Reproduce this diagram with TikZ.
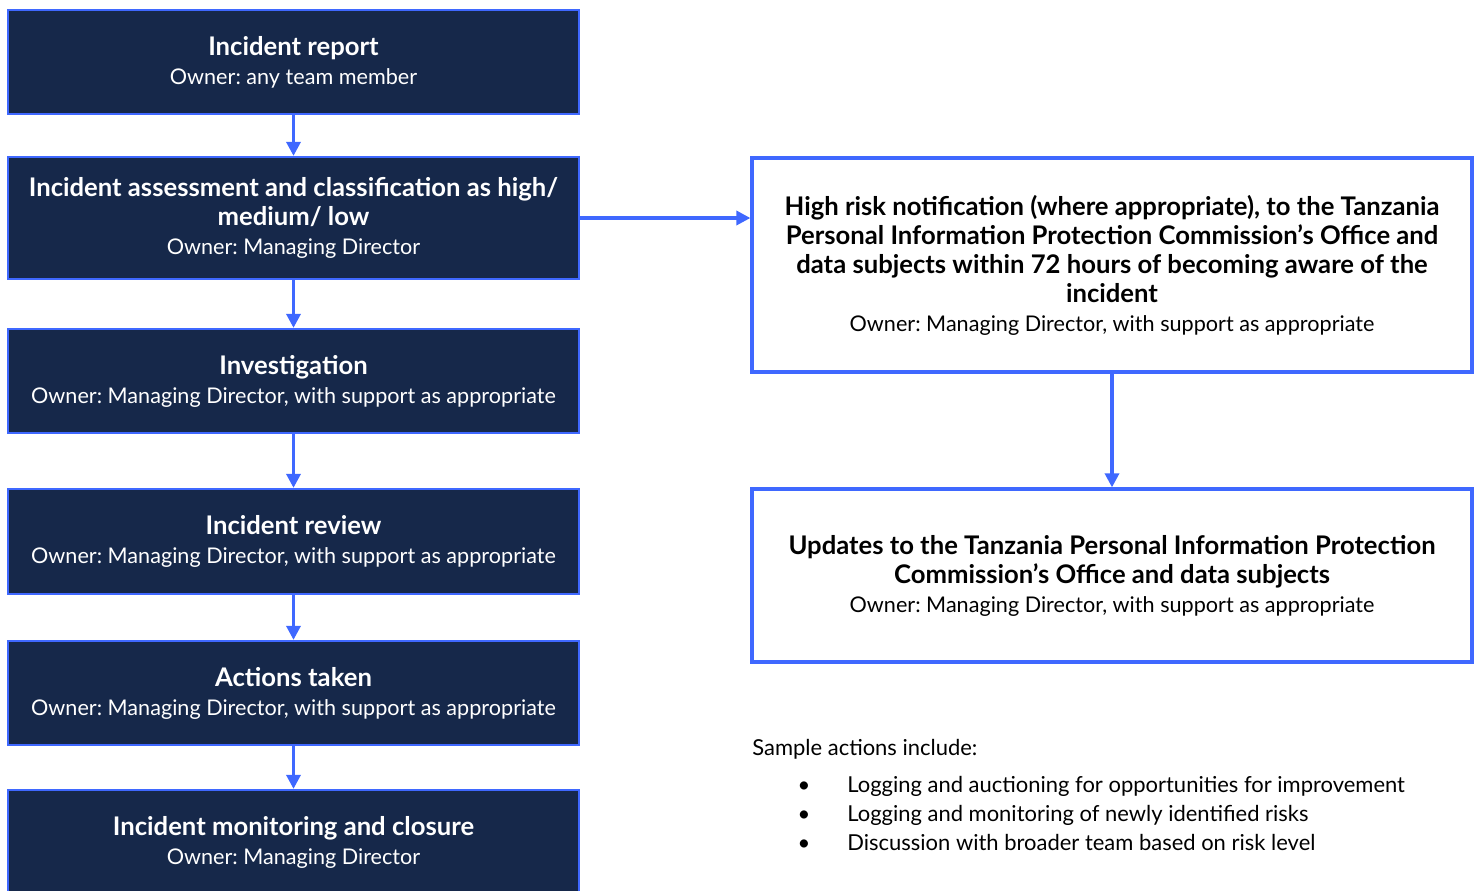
\documentclass[tikz,border=0pt]{standalone}
\usepackage{fontspec}
\setmainfont{Lato}
\usetikzlibrary{arrows.meta, positioning}
\definecolor{navy}{HTML}{16284A}
\definecolor{lineblue}{HTML}{3F68FF}
\newcommand\hd[1]{{\fontsize{14.6}{16.5}\selectfont\bfseries #1}}

\tikzset{
  stagebox/.style={draw=lineblue, line width=1.3pt, fill=navy, text=white,
    align=center, minimum width=11.42cm, inner sep=0pt,
    font=\fontsize{12.3}{16.5}\selectfont\frenchspacing},
  notebox/.style={draw=lineblue, line width=1.9pt, fill=white, text=black,
    align=center, minimum width=14.4cm, inner sep=0pt,
    font=\fontsize{12.3}{16.5}\selectfont\frenchspacing},
  flow/.style={draw=lineblue, line width=1.9pt, -{Triangle[length=8pt,width=8pt]}},
  plain/.style={font=\fontsize{12.5}{16.5}\selectfont\frenchspacing, inner sep=0pt}
}

\begin{document}
\begin{tikzpicture}[x=0.02cm, y=-0.02cm]
\useasboundingbox (0,0) rectangle (1478,890);
\begin{scope}
\clip (0,0) rectangle (1478,890);
% left column
\node[stagebox, minimum height=2.08cm] (report) at (293.5,62)
  {\hd{Incident report}\\Owner: any team member};
\node[stagebox, minimum height=2.44cm] (assess) at (293.5,218)
  {\hd{Incident assessment and classification as high/}\\\hd{medium/ low}\\Owner: Managing Director};
\node[stagebox, minimum height=2.08cm] (investig) at (293.5,381)
  {\hd{Investigation}\\Owner: Managing Director, with support as appropriate};
\node[stagebox, minimum height=2.1cm] (review) at (293.5,541.5)
  {\hd{Incident review}\\Owner: Managing Director, with support as appropriate};
\node[stagebox, minimum height=2.08cm] (actions) at (293.5,693)
  {\hd{Actions taken}\\Owner: Managing Director, with support as appropriate};
\node[stagebox, minimum height=2.1cm] (closure) at (293.5,842.5)
  {\hd{Incident monitoring and closure}\\Owner: Managing Director};
\end{scope}

% right column
\node[notebox, minimum height=4.28cm] (notify) at (1112,265)
  {\hd{High risk notification (where appropriate), to the Tanzania}\\
   \hd{Personal Information Protection Commission's Office and}\\
   \hd{data subjects within 72 hours of becoming aware of the}\\
   \hd{incident}\\
   Owner: Managing Director, with support as appropriate};
\node[notebox, minimum height=3.46cm] (updates) at (1112,575.5)
  {\hd{Updates to the Tanzania Personal Information Protection}\\
   \hd{Commission's Office and data subjects}\\
   Owner: Managing Director, with support as appropriate};

% arrows
\draw[flow] (report) -- (assess);
\draw[flow] (assess) -- (investig);
\draw[flow] (investig) -- (review);
\draw[flow] (review) -- (actions);
\draw[flow] (actions) -- (closure);
\draw[flow] (assess.east) -- (assess.east -| notify.west);
\draw[flow] (notify) -- (updates);

% sample actions
\node[plain, anchor=base west] (sample) at (752,755) {Sample actions include:};
\node[plain] (dot1) at (804,787) {\textbullet};
\node[plain, anchor=base west] (act1) at (847,792) {Logging and auctioning for opportunities for improvement};
\node[plain] (dot2) at (804,816) {\textbullet};
\node[plain, anchor=base west] (act2) at (847,821) {Logging and monitoring of newly identified risks};
\node[plain] (dot3) at (804,845) {\textbullet};
\node[plain, anchor=base west] (act3) at (847,850) {Discussion with broader team based on risk level};
\end{tikzpicture}
\end{document}
